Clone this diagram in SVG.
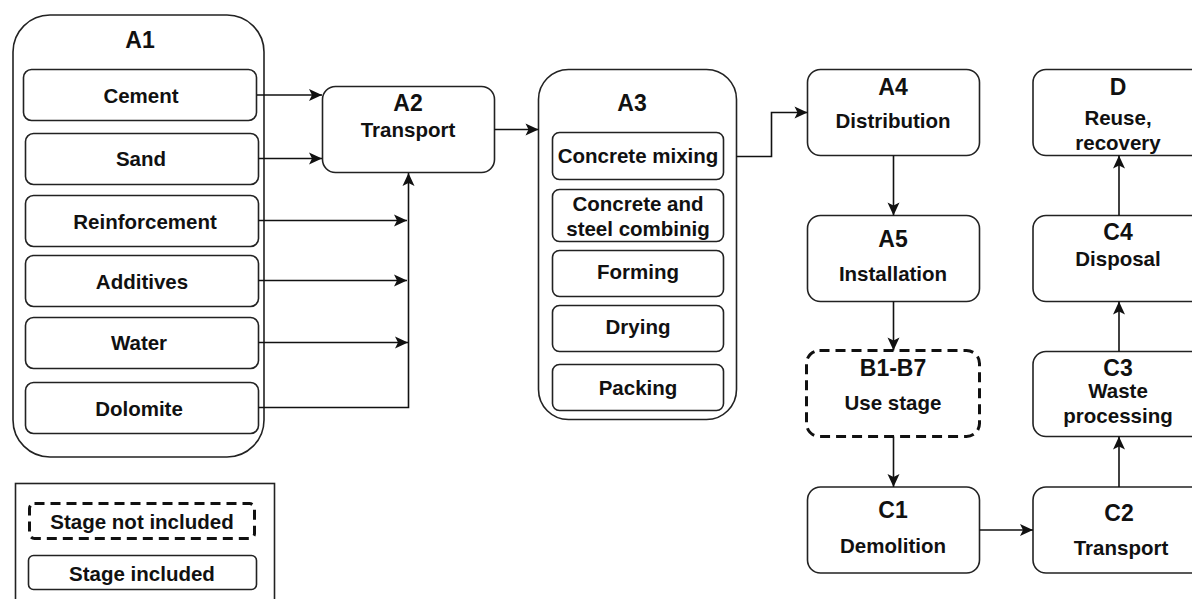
<svg xmlns="http://www.w3.org/2000/svg" width="1192" height="599" viewBox="0 0 1192 599">
<style>
.b{fill:#fff;stroke:#222;stroke-width:1.6}
.d{fill:#fff;stroke:#111;stroke-width:3;stroke-dasharray:10 6}
.t{font-family:"Liberation Sans",Arial,sans-serif;font-weight:bold;font-size:20.5px;fill:#111;text-anchor:middle}
.h{font-size:23px}
.c{fill:none;stroke:#111;stroke-width:1.6}
</style>
<defs>
<marker id="ar" markerUnits="userSpaceOnUse" markerWidth="16" markerHeight="14" viewBox="-14 -7 16 14" refX="0" refY="0" orient="auto">
<path d="M-13,-6 L0,0 L-13,6 L-10,0 z" fill="#111"/>
</marker>
</defs>
<rect width="1192" height="599" fill="#fff"/>

<g id="A1">
<rect class="b" x="13" y="15" width="251" height="442" rx="37"/>
<text class="t h" x="140" y="48">A1</text>
</g>
<g id="cement"><rect class="b" x="23.5" y="69.5" width="233" height="51" rx="8"/><text class="t" x="141" y="103">Cement</text></g>
<g id="sand"><rect class="b" x="25.5" y="133.5" width="233" height="51" rx="8"/><text class="t" x="141" y="166">Sand</text></g>
<g id="reinforcement"><rect class="b" x="25.5" y="195.5" width="233" height="51" rx="8"/><text class="t" x="145" y="229">Reinforcement</text></g>
<g id="additives"><rect class="b" x="25.5" y="255.5" width="233" height="51" rx="8"/><text class="t" x="142" y="289">Additives</text></g>
<g id="water"><rect class="b" x="25.5" y="317.5" width="233" height="51" rx="8"/><text class="t" x="139" y="350">Water</text></g>
<g id="dolomite"><rect class="b" x="25.5" y="382.5" width="233" height="51" rx="8"/><text class="t" x="139" y="416">Dolomite</text></g>

<g id="A2">
<rect class="b" x="322.5" y="86.5" width="172" height="86" rx="13"/>
<text class="t h" x="408" y="111">A2</text>
<text class="t" x="408" y="137">Transport</text>
</g>

<g id="A3">
<rect class="b" x="538.5" y="69.5" width="198" height="350" rx="30"/>
<text class="t h" x="632" y="111">A3</text>
</g>
<g id="mixing"><rect class="b" x="552.5" y="132.5" width="171" height="47" rx="7"/><text class="t" x="638" y="163">Concrete mixing</text></g>
<g id="combining"><rect class="b" x="552.5" y="189.5" width="171" height="52" rx="7"/><text class="t" x="638" y="211">Concrete and</text><text class="t" x="638" y="236">steel combinig</text></g>
<g id="forming"><rect class="b" x="552.5" y="250.5" width="171" height="46" rx="7"/><text class="t" x="638" y="279">Forming</text></g>
<g id="drying"><rect class="b" x="552.5" y="305.5" width="171" height="46" rx="7"/><text class="t" x="638" y="334">Drying</text></g>
<g id="packing"><rect class="b" x="552.5" y="364.5" width="171" height="46" rx="7"/><text class="t" x="638" y="395">Packing</text></g>

<g id="A4"><rect class="b" x="807.5" y="69.5" width="172" height="86" rx="13"/><text class="t h" x="893" y="95">A4</text><text class="t" x="893" y="128">Distribution</text></g>
<g id="A5"><rect class="b" x="807.5" y="215.5" width="172" height="86" rx="13"/><text class="t h" x="893" y="247">A5</text><text class="t" x="893" y="281">Installation</text></g>
<g id="B"><rect class="d" x="806.5" y="350.5" width="173" height="86" rx="13"/><text class="t h" x="893" y="376">B1-B7</text><text class="t" x="893" y="410">Use stage</text></g>
<g id="C1"><rect class="b" x="807.5" y="487" width="172" height="86" rx="13"/><text class="t h" x="893" y="518">C1</text><text class="t" x="893" y="553">Demolition</text></g>
<g id="C2"><rect class="b" x="1033" y="487" width="172" height="86" rx="13"/><text class="t h" x="1119" y="521">C2</text><text class="t" x="1121" y="555">Transport</text></g>
<g id="C3"><rect class="b" x="1033" y="351.5" width="172" height="85" rx="13"/><text class="t h" x="1118" y="376">C3</text><text class="t" x="1118" y="398">Waste</text><text class="t" x="1118" y="423">processing</text></g>
<g id="C4"><rect class="b" x="1033" y="215.5" width="172" height="86" rx="13"/><text class="t h" x="1118" y="240">C4</text><text class="t" x="1118" y="266">Disposal</text></g>
<g id="D"><rect class="b" x="1033" y="69.5" width="172" height="86" rx="13"/><text class="t h" x="1118" y="95">D</text><text class="t" x="1118" y="125">Reuse,</text><text class="t" x="1118" y="150">recovery</text></g>

<g id="legend">
<rect class="b" x="15.5" y="483.5" width="259" height="130" rx="0"/>
<rect class="d" x="29.5" y="503.5" width="225" height="35" rx="5"/>
<text class="t" x="142" y="529">Stage not included</text>
<rect class="b" x="28.5" y="555.5" width="228" height="34" rx="5"/>
<text class="t" x="142" y="581">Stage included</text>
</g>

<g id="connectors">
<path class="c" d="M257,95 H322" marker-end="url(#ar)"/>
<path class="c" d="M258.5,158.5 H322" marker-end="url(#ar)"/>
<path class="c" d="M258.5,220.5 H407" marker-end="url(#ar)"/>
<path class="c" d="M258.5,280.5 H407" marker-end="url(#ar)"/>
<path class="c" d="M258.5,342.5 H408" marker-end="url(#ar)"/>
<path class="c" d="M258.5,407.5 H408.5 V173" marker-end="url(#ar)"/>
<path class="c" d="M494.5,129.5 H538.5" marker-end="url(#ar)"/>
<path class="c" d="M736.5,156.5 H771.5 V112.5 H807.5" marker-end="url(#ar)"/>
<path class="c" d="M893.5,155.5 V215.5" marker-end="url(#ar)"/>
<path class="c" d="M893.5,301.5 V350.5" marker-end="url(#ar)"/>
<path class="c" d="M893.5,436.5 V487" marker-end="url(#ar)"/>
<path class="c" d="M979.5,530 H1033" marker-end="url(#ar)"/>
<path class="c" d="M1119,487 V436.5" marker-end="url(#ar)"/>
<path class="c" d="M1119,351.5 V301.5" marker-end="url(#ar)"/>
<path class="c" d="M1119,215.5 V155.5" marker-end="url(#ar)"/>
</g>
</svg>
